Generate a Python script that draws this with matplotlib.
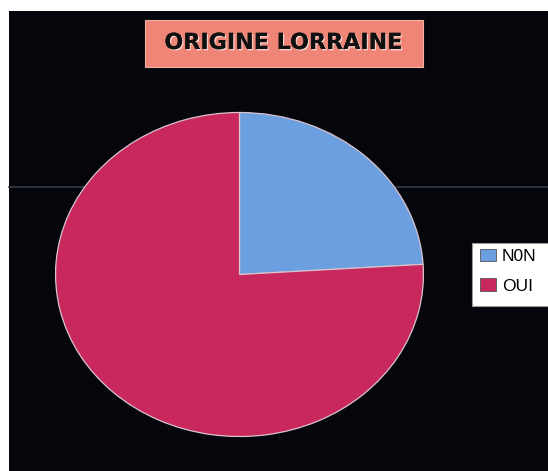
import matplotlib
matplotlib.use("Agg")
import matplotlib.pyplot as plt
from matplotlib.patches import Rectangle
from matplotlib.lines import Line2D
import matplotlib.patheffects as pe

# Data
title = "ORIGINE LORRAINE"
labels = ["N0N", "OUI"]
values = [24, 76]
colors = ["#6b9fe0", "#c8285c"]

W, H = 548, 471
fig = plt.figure(figsize=(W / 100, H / 100), dpi=100, facecolor="white")

def fx(px):
    return px / W

def fy(py):
    return 1 - py / H

# black chart area (white scan border on top/left)
fig.patches.append(Rectangle((fx(9), 0), 1 - fx(9), fy(11), transform=fig.transFigure,
                             facecolor="#04060c", edgecolor="none", zorder=0))
# faint scan line
fig.lines.append(Line2D([fx(9), 1], [fy(187), fy(187)], transform=fig.transFigure,
                        color="#363945", lw=1.2, zorder=0.5))

# pie axes (elliptical)
ax = fig.add_axes([fx(55), fy(437), fx(424) - fx(55), fy(112) - fy(437)])
ax.set_zorder(1)
ax.patch.set_alpha(0)
wedges, _ = ax.pie(values, colors=colors, startangle=90, counterclock=False,
                   radius=1, center=(0, 0),
                   wedgeprops=dict(edgecolor="#d9c3cf", linewidth=0.9))
ax.set_aspect("auto")
ax.set_xlim(-1.003, 1.003)
ax.set_ylim(-1.003, 1.003)
ax.axis("off")

# title box
fig.patches.append(Rectangle((fx(145), fy(67)), fx(423) - fx(145), fy(20) - fy(67),
                             transform=fig.transFigure, facecolor="#ee8577",
                             edgecolor="#f3b0a5", linewidth=0.8, zorder=2))
fig.text(fx(283), fy(43), title, ha="center", va="center", fontsize=16,
         fontweight="bold", family="DejaVu Sans", color="#111111", zorder=3,
         path_effects=[pe.withSimplePatchShadow(offset=(1, -1), shadow_rgbFace="white", alpha=0.6),
                       pe.Normal()])

# legend
fig.patches.append(Rectangle((fx(472), fy(306)), 1 - fx(472) + 0.01, fy(243) - fy(306),
                             transform=fig.transFigure, facecolor="white",
                             edgecolor="#999999", linewidth=0.8, zorder=2))
leg = fig.legend(wedges, labels, loc="upper left", bbox_to_anchor=(fx(480), fy(249)),
                 frameon=False, prop={"family": "Liberation Sans", "size": 12.5},
                 handlelength=0.9, handleheight=0.7, handletextpad=0.35,
                 labelspacing=0.82, borderpad=0, borderaxespad=0)
leg.set_zorder(3)
for h in leg.legend_handles:
    h.set_edgecolor("#555555")
    h.set_linewidth(0.6)

fig.savefig("out.png", dpi=100, facecolor=fig.get_facecolor())
